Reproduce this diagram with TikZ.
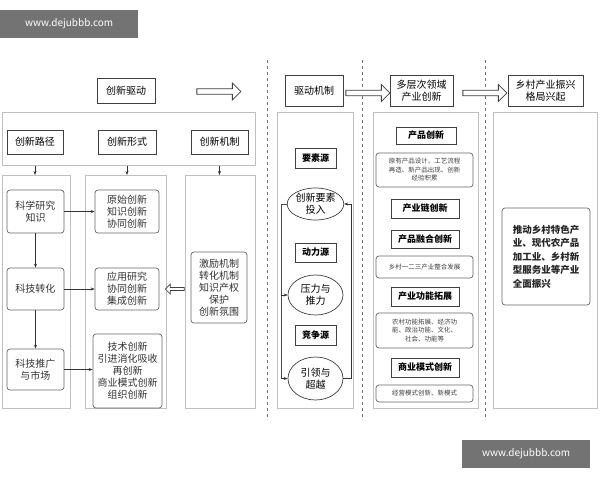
\documentclass[tikz,border=0pt]{standalone}
\usepackage{fontspec}
\setmainfont{Noto Sans CJK SC}
\usetikzlibrary{shapes.geometric,shapes.arrows,arrows.meta}
\begin{document}
\begin{tikzpicture}[x=1pt,y=-1pt,
 lc/.style={draw=black!70,line width=0.7pt},
 col/.style={draw=black!25,line width=0.9pt},
 hd/.style={lc,draw=black!75,line width=0.9pt,align=center,font=\fontsize{10}{12}\selectfont},
 rb/.style={draw=black!60,line width=0.7pt,rounded corners=3pt,align=center,font=\fontsize{10}{12}\selectfont\color{black!80}},
 sb/.style={draw=black!60,line width=0.7pt,rounded corners=3pt,align=center,font=\fontsize{6.5}{8.5}\selectfont\color{black!75}},
 el/.style={draw=black!75,line width=0.7pt,ellipse,inner sep=0pt,align=center,font=\fontsize{10}{12}\selectfont},
 ar/.style={draw=black!80,line width=0.6pt,-{Stealth[length=4pt,width=3pt]}},
 big/.style={single arrow,draw=black!75,line width=0.8pt,fill=white,minimum height=44pt,minimum width=17pt,single arrow head extend=3pt,inner sep=1pt},
 dsh/.style={draw=black!55,dashed,line width=0.6pt},
 wm/.style={fill=black!55,text=white,font=\fontsize{10}{12}\selectfont,inner sep=0pt}]
\path[use as bounding box,fill=white] (0,0) rectangle (600,480);
% watermarks
\node[wm,minimum width=138,minimum height=28,anchor=north west] (wm1) at (0,10) {www.dejubbb.com};
\node[wm,minimum width=128,minimum height=28,anchor=north west] (wm2) at (462,440) {www.dejubbb.com};
% dashed separators
\draw[dsh] (267,60) -- (267,420);
\draw[dsh] (362,60) -- (362,420);
\draw[dsh] (485,60) -- (485,420);
% top headers
\node[hd,minimum width=58,minimum height=25] (cxqd) at (126,90.5) {创新驱动};
\node[big,shape border rotate=0] (a1) at (217.5,91.5) {};
\node[hd,minimum width=58,minimum height=31] (qdjz) at (314,90.5) {驱动机制};
\node[big] (a2) at (366.5,93) {};
\node[hd,minimum width=63,minimum height=31,inner sep=1pt] (dcc) at (421.5,90.5) {多层次领域\\产业创新};
\node[big] (a3) at (483.5,93) {};
\node[hd,minimum width=75,minimum height=31,inner sep=1pt] (xc) at (545.5,90.5) {乡村产业振兴\\格局兴起};
% left top wide box
\node[col,minimum width=253,minimum height=53,anchor=north west] (wide) at (2,112) {};
\node[hd,minimum width=56,minimum height=24] (h1) at (35,142) {创新路径};
\node[hd,minimum width=58,minimum height=24] (h2) at (127,142) {创新形式};
\node[hd,minimum width=57,minimum height=24] (h3) at (219.5,142) {创新机制};
% columns
\node[col,minimum width=68,minimum height=233,anchor=north west] (c1) at (2,175) {};
\node[col,minimum width=81,minimum height=233,anchor=north west] (c2) at (85,175) {};
\node[col,minimum width=70,minimum height=233,anchor=north west] (c3) at (185,175) {};
\draw[ar] (h1.south|-wide.south) -- (h1.south|-c1.north);
\draw[ar] (h2.south|-wide.south) -- (h2.south|-c2.north);
\draw[ar] (h3.south|-wide.south) -- (h3.south|-c3.north);
% column 1
\node[rb,minimum width=57,minimum height=43] (k1) at (35.5,211.5) {科学研究\\知识};
\node[rb,minimum width=57,minimum height=42] (k2) at (35.5,289) {科技转化};
\node[rb,minimum width=57,minimum height=41] (k3) at (35.5,369.5) {科技推广\\与市场};
\draw[ar] (k1) -- (k2);
\draw[ar] (k2) -- (k3);
% column 2
\node[rb,minimum width=64,minimum height=43,inner sep=1pt] (f1) at (127,211.5) {原始创新\\知识创新\\协同创新};
\node[rb,minimum width=64,minimum height=42,inner sep=1pt] (f2) at (127,289) {应用研究\\协同创新\\集成创新};
\node[rb,minimum width=69,minimum height=74,inner sep=1pt] (f3) at (127.5,371) {技术创新\\引进消化吸收\\再创新\\商业模式创新\\组织创新};
\draw[ar] (k1) -- (f1);
\draw[ar] (k2) -- (f2);
\draw[ar] (k3.east) -- (k3.east-|f3.west);
% column 3
\node[rb,minimum width=56,minimum height=71,inner sep=1pt] (m1) at (219,287.5) {激励机制\\转化机制\\知识产权\\保护\\创新氛围};
\node[single arrow,draw=black!75,line width=0.7pt,shape border rotate=180,minimum height=19pt,minimum width=10pt,single arrow head extend=2pt,inner sep=0.5pt] (a4) at (175.5,289) {};
% drive column
\node[col,minimum width=76,minimum height=296,anchor=north west] (c4) at (277,112) {};
\node[hd,minimum width=41,minimum height=20,font=\fontsize{9}{11}\selectfont\bfseries] (y1) at (315.5,158) {要素源};
\node[el,minimum width=55,minimum height=32] (e1) at (315.5,204) {创新要素\\投入};
\node[hd,minimum width=41,minimum height=19,font=\fontsize{9}{11}\selectfont\bfseries] (y2) at (315.5,252.5) {动力源};
\node[el,minimum width=55,minimum height=40] (e2) at (315.5,295) {压力与\\推力};
\node[hd,minimum width=41,minimum height=20,font=\fontsize{9}{11}\selectfont\bfseries] (y3) at (315.5,335) {竞争源};
\node[el,minimum width=55,minimum height=43] (e3) at (315.5,378.5) {引领与\\超越};
\coordinate (xl) at (281,0);
\coordinate (xr) at (351,0);
\coordinate (L1) at (e1.west-|xl);
\coordinate (L2) at (e2.west-|xl);
\coordinate (L3) at (e3.west-|xl);
\coordinate (R3) at (e3.east-|xr);
\coordinate (R1) at (e1.east-|xr);
\draw[lc,line width=0.5pt] (e1.west) -- (L1) -- (L3);
\draw[ar,line width=0.5pt] (L2) -- (e2.west);
\draw[ar,line width=0.5pt] (L3) -- (e3.west);
\draw[ar,line width=0.5pt] (e3.east) -- (R3) -- (R1) -- (e1.east);
% middle column
\node[col,minimum width=105,minimum height=296,anchor=north west] (c5) at (373,112) {};
\node[hd,minimum width=60,minimum height=17,font=\fontsize{9}{11}\selectfont\bfseries] (p1) at (426,135.5) {产品创新};
\node[sb,minimum width=97,minimum height=34,inner sep=1pt] (t1) at (424.5,170) {原有产品设计、工艺流程\\再造、新产品出现、创新\\经验积累};
\node[hd,minimum width=68,minimum height=19,font=\fontsize{9}{11}\selectfont\bfseries] (p2) at (425,208.5) {产业链创新};
\node[hd,minimum width=68,minimum height=18,font=\fontsize{9}{11}\selectfont\bfseries] (p3) at (425,239) {产品融合创新};
\node[sb,minimum width=97,minimum height=22] (t2) at (424.5,267) {乡村一二三产业整合发展};
\node[hd,minimum width=68,minimum height=19,font=\fontsize{9}{11}\selectfont\bfseries] (p4) at (425,296.5) {产业功能拓展};
\node[sb,minimum width=97,minimum height=35,inner sep=1pt] (t3) at (424.5,330.5) {农村功能拓展、经济功\\能、政治功能、文化、\\社会、功能等};
\node[hd,minimum width=68,minimum height=19,font=\fontsize{9}{11}\selectfont\bfseries] (p5) at (425,367.5) {商业模式创新};
\node[sb,minimum width=97,minimum height=17] (t4) at (424.5,393.5) {经营模式创新、新模式};
% right column
\node[col,minimum width=104,minimum height=296,anchor=north west] (c6) at (493,112) {};
\node[rb,minimum width=88,minimum height=97,align=left,font=\fontsize{9.5}{13.5}\selectfont\bfseries\color{black!85}] (r1) at (546,256.5) {推动乡村特色产\\业、现代农产品\\加工业、乡村新\\型服务业等产业\\全面振兴};
\end{tikzpicture}
\end{document}
